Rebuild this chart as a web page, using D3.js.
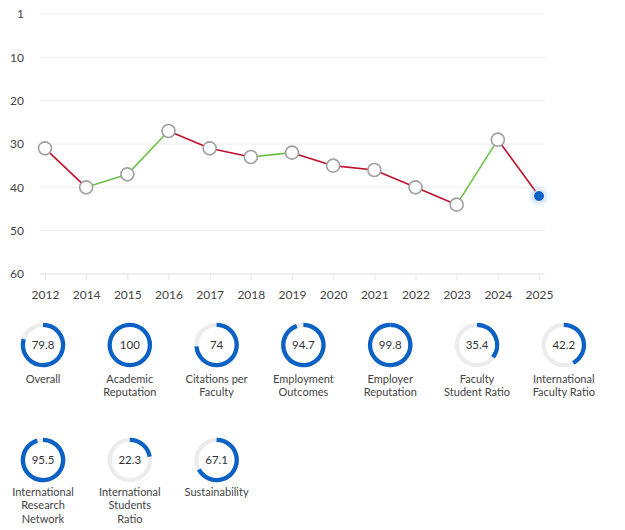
<!DOCTYPE html>
<html>
<head>
<meta charset="utf-8">
<script src="https://cdn.jsdelivr.net/npm/d3@7"></script>
<style>
  body { margin: 0; background: #fff; font-family: "Lato", "Open Sans", sans-serif; }
  svg text { fill: #444; }
</style>
</head>
<body>
<svg width="625" height="530"></svg>
<script>
// rank history
const years = ["2012", "2014", "2015", "2016", "2017", "2018", "2019", "2020", "2021", "2022", "2023", "2024", "2025"];
const ranks = [31, 40, 37, 27, 31, 33, 32, 35, 36, 40, 44, 29, 42];
const rankTicks = [0, 10, 20, 30, 40, 50, 60];
const rankTickLabels = ["1", "10", "20", "30", "40", "50", "60"];

// indicator scores
const indicators = ["Overall", "Academic Reputation", "Citations per Faculty", "Employment Outcomes",
  "Employer Reputation", "Faculty Student Ratio", "International Faculty Ratio",
  "International Research Network", "International Students Ratio", "Sustainability"];
const indicatorLines = [["Overall"], ["Academic", "Reputation"], ["Citations per", "Faculty"], ["Employment", "Outcomes"],
  ["Employer", "Reputation"], ["Faculty", "Student Ratio"], ["International", "Faculty Ratio"],
  ["International", "Research", "Network"], ["International", "Students", "Ratio"], ["Sustainability"]];
const scores = ["79.8", "100", "74", "94.7", "99.8", "35.4", "42.2", "95.5", "22.3", "67.1"];

const svg = d3.select("svg");
const red = "#c0102c", green = "#6cc24a", blue = "#0b62c4";

const x = d3.scalePoint().domain(years).range([45, 539]);
const y = d3.scaleLinear().domain([0, 60]).range([14, 274]);

const defs = svg.append("defs");
const glow = defs.append("filter").attr("id", "glow").attr("x", "-100%").attr("y", "-100%").attr("width", "300%").attr("height", "300%");
glow.append("feGaussianBlur").attr("stdDeviation", 2.5);

// grid
svg.append("g")
  .selectAll("line")
  .data(rankTicks)
  .join("line")
  .attr("x1", 40).attr("x2", 545)
  .attr("y1", d => y(d)).attr("y2", d => y(d))
  .attr("stroke", d => d === 60 ? "#ddd" : "#eeeeee")
  .attr("stroke-width", 1);

// y labels
svg.append("g")
  .selectAll("text")
  .data(rankTicks)
  .join("text")
  .attr("x", 24)
  .attr("y", d => y(d))
  .attr("dy", "0.35em")
  .attr("text-anchor", "end")
  .style("font-size", "12px")
  .text((d, i) => rankTickLabels[i]);

// x axis
const xAxis = svg.append("g")
  .attr("transform", `translate(0,${y(60)})`)
  .call(d3.axisBottom(x).tickSize(6).tickPadding(10));
xAxis.select(".domain").remove();
xAxis.selectAll(".tick line").attr("stroke", "#e4e4e4");
xAxis.selectAll(".tick text").style("font-size", "12px").style("font-family", "Lato, sans-serif").attr("fill", "#444");

// segments coloured by direction
const segs = d3.pairs(years.map((yr, i) => ({yr, r: ranks[i]})));
svg.append("g")
  .selectAll("line")
  .data(segs)
  .join("line")
  .attr("x1", d => x(d[0].yr)).attr("y1", d => y(d[0].r))
  .attr("x2", d => x(d[1].yr)).attr("y2", d => y(d[1].r))
  .attr("stroke", d => d[1].r > d[0].r ? red : green)
  .attr("stroke-width", 1.6);

// points
const pts = years.map((yr, i) => ({yr, r: ranks[i], last: i === years.length - 1}));
svg.append("g")
  .selectAll("circle")
  .data(pts.filter(d => !d.last))
  .join("circle")
  .attr("cx", d => x(d.yr)).attr("cy", d => y(d.r))
  .attr("r", 6.5)
  .attr("fill", "#fff")
  .attr("stroke", "#a0a0a0")
  .attr("stroke-width", 1.6);

const lastPt = pts[pts.length - 1];
svg.append("circle")
  .attr("cx", x(lastPt.yr)).attr("cy", y(lastPt.r))
  .attr("r", 7.5)
  .attr("fill", "#9cc4ee")
  .attr("opacity", 0.7)
  .attr("filter", "url(#glow)");
svg.append("circle")
  .attr("cx", x(lastPt.yr)).attr("cy", y(lastPt.r))
  .attr("r", 5.5)
  .attr("fill", blue)
  .attr("stroke", "#fff")
  .attr("stroke-width", 1);

// gauges
const perRow = 7;
const gx = d3.scaleLinear().domain([0, 1]).range([43, 43 + 86.8]);
const rowY = [345, 460];
const labelOffset = [38, 36];
const arc = d3.arc().innerRadius(18).outerRadius(22.3).startAngle(0);

const gauges = svg.append("g")
  .selectAll("g")
  .data(indicators)
  .join("g")
  .attr("transform", (d, i) => `translate(${gx(i % perRow)},${rowY[Math.floor(i / perRow)]})`);

gauges.append("path")
  .attr("d", arc({endAngle: 2 * Math.PI}))
  .attr("fill", "#ececec");

gauges.append("path")
  .attr("d", (d, i) => arc({endAngle: 2 * Math.PI * (+scores[i]) / 100}))
  .attr("fill", blue);

gauges.append("text")
  .attr("text-anchor", "middle")
  .attr("dy", "0.35em")
  .style("font-size", "11.5px")
  .style("fill", "#333")
  .text((d, i) => scores[i]);

gauges.append("text")
  .attr("text-anchor", "middle")
  .attr("y", (d, i) => labelOffset[Math.floor(i / perRow)])
  .style("font-size", "11px")
  .selectAll("tspan")
  .data((d, i) => indicatorLines[i])
  .join("tspan")
  .attr("x", 0)
  .attr("dy", (d, j) => j === 0 ? 0 : 13.3)
  .text(d => d);
</script>
</body>
</html>
